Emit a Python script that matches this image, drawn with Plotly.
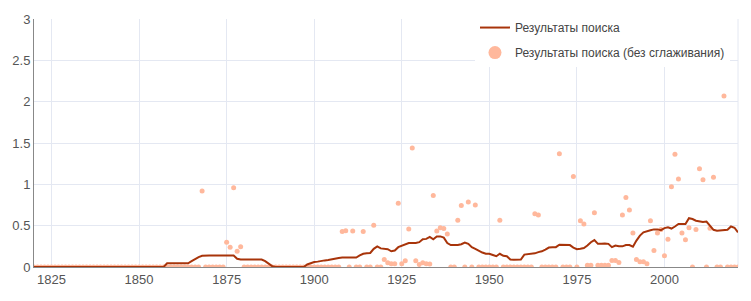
import plotly.graph_objects as go

years = list(range(1820, 2022))

smoothed = (
    [0.0] * 10 +  # 1820-1829
    [0.0] * 10 +  # 1830-1839
    [0.0] * 10 +  # 1840-1849
    [0, 0, 0, 0, 0, 0, 0, 0, 0.045, 0.045] +  # 1850-1859
    [0.045, 0.045, 0.045, 0.045, 0.045, 0.07, 0.10, 0.12, 0.135, 0.14] +  # 1860s
    [0.14, 0.14, 0.14, 0.14, 0.14, 0.14, 0.14, 0.14, 0.10, 0.09] +  # 1870s
    [0.09, 0.09, 0.09, 0.09, 0.09, 0.09, 0.07, 0.04, 0.01, 0.0] +  # 1880s
    [0, 0, 0, 0, 0, 0, 0, 0, 0.03, 0.045] +  # 1890s
    [0.06, 0.065, 0.075, 0.08, 0.085, 0.095, 0.105, 0.11, 0.115, 0.115] +  # 1900s
    [0.115, 0.115, 0.115, 0.14, 0.16, 0.165, 0.17, 0.22, 0.25, 0.225] +  # 1910s
    [0.22, 0.215, 0.19, 0.20, 0.24, 0.255, 0.275, 0.29, 0.29, 0.29] +  # 1920s
    [0.30, 0.335, 0.34, 0.365, 0.335, 0.37, 0.37, 0.355, 0.29, 0.265] +  # 1930s
    [0.265, 0.265, 0.275, 0.295, 0.28, 0.24, 0.22, 0.195, 0.175, 0.16] +  # 1940s
    [0.16, 0.145, 0.13, 0.16, 0.135, 0.13, 0.09, 0.087, 0.087, 0.09] +  # 1950s
    [0.15, 0.155, 0.16, 0.165, 0.18, 0.19, 0.21, 0.235, 0.24, 0.24] +  # 1960s
    [0.27, 0.27, 0.27, 0.265, 0.235, 0.215, 0.22, 0.23, 0.26, 0.30] +  # 1970s
    [0.325, 0.28, 0.28, 0.285, 0.28, 0.24, 0.26, 0.25, 0.25, 0.265] +  # 1980s
    [0.265, 0.245, 0.32, 0.38, 0.42, 0.435, 0.445, 0.455, 0.455, 0.445] +  # 1990s
    [0.47, 0.48, 0.465, 0.49, 0.52, 0.52, 0.52, 0.59, 0.58, 0.56] +  # 2000s
    [0.55, 0.545, 0.55, 0.50, 0.45, 0.44, 0.445, 0.445, 0.45, 0.49] +  # 2010s
    [0.475, 0.42]  # 2020-2021
)

raw = (
    [0.0] * 10 +  # 1820s
    [0.0] * 10 +  # 1830s
    [0.0] * 10 +  # 1840s
    [0.0] * 10 +  # 1850s
    [0, 0, 0, 0, 0, 0, 0, 0, 0.92, 0] +  # 1860s
    [0, 0, 0, 0, 0, 0.30, 0.24, 0.96, 0.19, 0.245] +  # 1870s
    [0.0] * 10 +  # 1880s
    [0.0] * 10 +  # 1890s
    [0, 0, 0, 0, 0, 0, 0, 0, 0.43, 0.44] +  # 1900s
    [0, 0.435, 0, 0, 0.43, 0, 0, 0.505, 0, 0] +  # 1910s
    [0.09, 0.05, 0.04, 0.04, 0.77, 0.04, 0.075, 0.46, 1.44, 0.075] +  # 1920s
    [0.03, 0.05, 0.04, 0.035, 0.865, 0.435, 0.475, 0.465, 0.40, 0] +  # 1930s
    [0, 0.565, 0.745, 0, 0.785, 0, 0.75, 0, 0, 0] +  # 1940s
    [0, 0, 0, 0.565, 0, 0, 0, 0, 0, 0] +  # 1950s
    [0, 0, 0, 0.645, 0.63, 0, 0, 0, 0, 0] +  # 1960s
    [1.37, 0, 0, 0, 1.095, 0, 0.56, 0.52, 0.02, 0.02] +  # 1970s
    [0.655, 0.02, 0.02, 0.02, 0.02, 0.08, 0.08, 0.055, 0.63, 0.84] +  # 1980s
    [0.69, 0.41, 0.09, 0.065, 0.065, 0.04, 0.56, 0.20, 0.41, 0.455] +  # 1990s
    [0.135, 0.335, 0.97, 1.365, 1.065, 0.41, 0.33, 0.475, 0, 0.455] +  # 2000s
    [1.19, 1.055, 0, 0.47, 1.085, 0, 0, 2.07, 0, 0] +  # 2010s
    [0, 0]  # 2020-2021
)

assert len(smoothed) == len(years) == len(raw)

x_ticks = [1825, 1850, 1875, 1900, 1925, 1950, 1975, 2000]
y_ticks = [0, 0.5, 1, 1.5, 2, 2.5, 3]
y_tick_text = ["0", "0.5", "1", "1.5", "2", "2.5", "3"]

name_line = "Результаты поиска"
name_dots = "Результаты поиска (без сглаживания)"

dot_color = "#ffb89c"
line_color = "#a8340a"

fig = go.Figure()
# raw points (drawn under the line)
fig.add_trace(go.Scatter(
    x=years, y=raw, mode="markers", name=name_dots, showlegend=False,
    marker=dict(color=dot_color, size=5, line=dict(width=0)),
))
fig.add_trace(go.Scatter(
    x=years, y=smoothed, mode="lines", name=name_line, legendgroup="a",
    line=dict(color=line_color, width=2),
))
# legend entry for raw points with a larger symbol
fig.add_trace(go.Scatter(
    x=[None], y=[None], mode="markers", name=name_dots, legendgroup="b",
    marker=dict(color=dot_color, size=13, line=dict(width=0)),
))

grid = "#e4e8f2"
font_family = "Liberation Sans, Arial, sans-serif"

fig.update_layout(
    width=751, height=301,
    margin=dict(l=30, r=13, t=13, b=34),
    paper_bgcolor="white", plot_bgcolor="white",
    font=dict(family=font_family, size=12, color="#555"),
    showlegend=True,
    legend=dict(
        x=0.6264, y=1.024, xanchor="left", yanchor="top",
        bgcolor="white", borderwidth=0,
        font=dict(family=font_family, size=12, color="#444"),
        traceorder="grouped", tracegroupgap=6,
    ),
    xaxis=dict(
        range=[1820, 2021], tickmode="array", tickvals=x_ticks,
        showgrid=True, gridcolor=grid, gridwidth=1,
        zeroline=False, showline=True, linecolor="#888", linewidth=1,
        ticks="", tickfont=dict(size=13, color="#555"),
    ),
    yaxis=dict(
        range=[0, 3], tickmode="array", tickvals=y_ticks, ticktext=y_tick_text,
        showgrid=True, gridcolor=grid, gridwidth=1,
        zeroline=False, showline=True, linecolor="#888", linewidth=1,
        ticks="", tickfont=dict(size=13, color="#555"),
    ),
    shapes=[dict(type="line", xref="paper", yref="paper", x0=1, x1=1, y0=0, y1=1,
                 line=dict(color=grid, width=1), layer="below")],
)

fig.write_html("out.html")
